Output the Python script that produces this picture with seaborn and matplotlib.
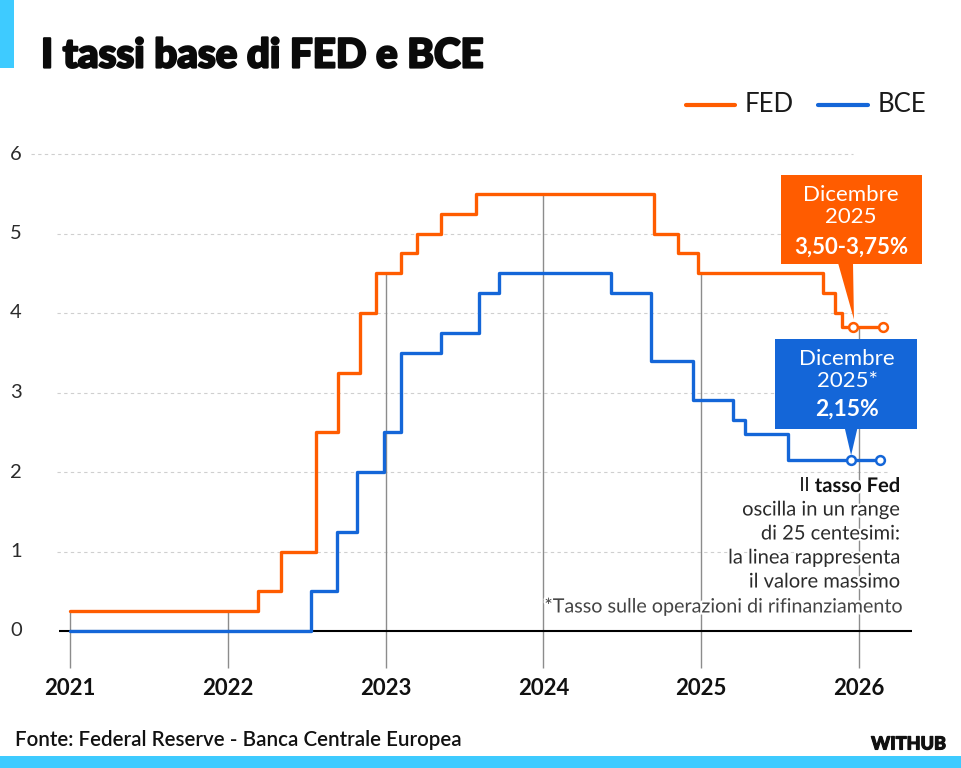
import matplotlib
matplotlib.use("Agg")
import matplotlib.pyplot as plt
import matplotlib.patheffects as pe
from matplotlib.patches import Rectangle, Polygon
from matplotlib.lines import Line2D
import seaborn as sns
import numpy as np
import pandas as pd

# --- dati (anno decimale, tasso %) ---
fed_dates = [2021.00, 2022.19, 2022.34, 2022.56, 2022.70, 2022.84, 2022.94, 2023.10, 2023.20,
             2023.35, 2023.57, 2024.70, 2024.85, 2024.98, 2025.77, 2025.85, 2025.89, 2026.15]
fed_rates = [0.25, 0.50, 1.00, 2.50, 3.25, 4.00, 4.50, 4.75, 5.00,
             5.25, 5.50, 5.00, 4.75, 4.50, 4.25, 4.00, 3.83, 3.83]
bce_dates = [2021.00, 2022.53, 2022.69, 2022.82, 2022.99, 2023.10, 2023.35, 2023.59,
             2023.72, 2024.43, 2024.68, 2024.95, 2025.20, 2025.28, 2025.55, 2026.13]
bce_rates = [0.00, 0.50, 1.25, 2.00, 2.50, 3.50, 3.75, 4.25,
             4.50, 4.25, 3.40, 2.90, 2.65, 2.48, 2.15, 2.15]
fed_marks = [2025.96, 2026.15]
fed_marks_rate = [3.83, 3.83]
bce_marks = [2025.95, 2026.13]
bce_marks_rate = [2.15, 2.15]
years = [2021, 2022, 2023, 2024, 2025, 2026]
yticks = [0, 1, 2, 3, 4, 5, 6]

C = {'fed': '#FF5C00', 'bce': '#1466D8', 'cyan': '#3ECBFF', 'grid': '#cfcfcf',
     'vline': '#8c8c8c', 'text': '#2b2b2b'}

sns.set_theme(style="white")
plt.rcParams['font.family'] = ['Lato', 'DejaVu Sans']

fig = plt.figure(figsize=(9.62, 7.68), dpi=100, facecolor='white')
ax = fig.add_axes([0, 0, 1, 1])
XLIM = (2021 - 70 / 157.8, 2021 + 892 / 157.8)   # 2021 a px 70, 157.8 px/anno
YLIM = ((631 - 768) / 79.5, 631 / 79.5)          # 0 a px 631, 79.5 px/punto

# griglia
for v in yticks[1:]:
    x0 = 2020.75 if v == 6 else 2020.92
    x1 = 2025.96 if v == 6 else 2026.19
    ax.hlines(v, x0, x1, colors=C['grid'], linestyles=(0, (3, 3)), lw=0.8, zorder=1)
for v in yticks:
    ax.text(2020.658, v, str(v), ha='center', va='center', fontsize=14.5, color=C['text'])

# linee verticali degli anni
for yr in years:
    top = fed_rates[np.searchsorted(fed_dates, yr, side='right') - 1]
    ax.vlines(yr, -0.47, top, colors=C['vline'], lw=1.0, zorder=1.5)
    ax.text(yr, -0.717, str(yr), ha='center', va='center', fontsize=16,
            fontweight='bold', color='#111111')

ax.hlines(0, 2020.93, 2026.336, colors='black', lw=1.5, zorder=2)

# serie
df = pd.concat([
    pd.DataFrame({'data': fed_dates, 'tasso': fed_rates, 'banca': 'FED'}),
    pd.DataFrame({'data': bce_dates, 'tasso': bce_rates, 'banca': 'BCE'}),
])
sns.lineplot(data=df, x='data', y='tasso', hue='banca', palette={'FED': C['fed'], 'BCE': C['bce']},
             drawstyle='steps-post', linewidth=2.4, estimator=None, legend=False, ax=ax, zorder=3)
ax.set_xlim(*XLIM)
ax.set_ylim(*YLIM)
ax.axis('off')

ax.scatter(fed_marks, fed_marks_rate, s=40, facecolor='white', edgecolor=C['fed'], lw=1.8, zorder=4)
ax.scatter(bce_marks, bce_marks_rate, s=40, facecolor='white', edgecolor=C['bce'], lw=1.8, zorder=4)

# riquadri
ax.add_patch(Rectangle((2025.506, 4.616), 0.893, 1.12, fc=C['fed'], ec='none', zorder=5))
ax.add_patch(Polygon([[2025.867, 4.63], [2025.962, 4.63], [2025.968, 3.92]], fc=C['fed'], ec='none', zorder=5))
ax.text(2025.95, 5.484, 'Dicembre', ha='center', va='center', fontsize=16, color='white', zorder=6)
ax.text(2025.95, 5.208, '2025', ha='center', va='center', fontsize=16, color='white', zorder=6)
ax.text(2025.95, 4.83, '3,50-3,75%', ha='center', va='center', fontsize=16, fontweight='bold',
        color='white', zorder=6)

ax.add_patch(Rectangle((2025.468, 2.541), 0.9, 1.132, fc=C['bce'], ec='none', zorder=5))
ax.add_patch(Polygon([[2025.91, 2.55], [2025.99, 2.55], [2025.95, 2.21]], fc=C['bce'], ec='none', zorder=5))
ax.text(2025.925, 3.42, 'Dicembre', ha='center', va='center', fontsize=16, color='white', zorder=6)
ax.text(2025.925, 3.145, '2025*', ha='center', va='center', fontsize=16, color='white', zorder=6)
ax.text(2025.925, 2.79, '2,15%', ha='center', va='center', fontsize=16.5, fontweight='bold',
        color='white', zorder=6)

# nota
halo = [pe.withStroke(linewidth=3, foreground='white')]
xr = 2021 + 830 / 157.8
t_bold = ax.text(xr, 1.824, 'tasso Fed', ha='right', va='center', fontsize=14.5, fontweight='bold',
                 color='#111111', zorder=6, path_effects=halo)
note = ['oscilla in un range', 'di 25 centesimi:', 'la linea rappresenta', 'il valore massimo']
for i, line in enumerate(note):
    ax.text(xr, 1.522 - i * 0.302, line, ha='right', va='center', fontsize=14.5,
            color=C['text'], zorder=6, path_effects=halo)
ax.text(2021 + 833 / 157.8, 0.302, '*Tasso sulle operazioni di rifinanziamento', ha='right', va='center',
        fontsize=14.2, color='#444444', zorder=6, path_effects=halo)

fig.canvas.draw()
bb = t_bold.get_window_extent()
xl = ax.transData.inverted().transform((bb.x0 - 5, 0))[0]
ax.text(xl, 1.824, 'Il', ha='right', va='center', fontsize=14.5, color=C['text'], zorder=6, path_effects=halo)

# titolo, legenda, fonte
fig.add_artist(Rectangle((0, 1 - 68 / 768), 14 / 962, 68 / 768, transform=fig.transFigure,
                         fc=C['cyan'], ec='none'))
fig.add_artist(Rectangle((0, 0), 1, 12 / 768, transform=fig.transFigure, fc=C['cyan'], ec='none'))
fig.text(41 / 962, 1 - 56 / 768, 'I tassi base di FED e BCE', ha='left', va='center',
         fontsize=29, fontweight='black', color='#0a0a0a',
         path_effects=[pe.withStroke(linewidth=1.6, foreground='#0a0a0a')])

for (x0, x1, xt, lab, col) in [(686, 735, 745, 'FED', C['fed']), (818, 868, 878, 'BCE', C['bce'])]:
    fig.add_artist(Line2D([x0 / 962, x1 / 962], [1 - 105 / 768] * 2, transform=fig.transFigure,
                          color=col, lw=3, solid_capstyle='round'))
    fig.text(xt / 962, 1 - 104 / 768, lab, ha='left', va='center', fontsize=18.5, color='#1a1a1a')

fig.text(15 / 962, 1 - 740 / 768, 'Fonte: Federal Reserve - Banca Centrale Europea', ha='left',
         va='center', fontsize=14.8, fontweight='semibold', color='#111111')
fig.text(946 / 962, 1 - 744 / 768, 'WITHUB', ha='right', va='center', fontsize=13,
         fontweight='black', color='#111111',
         path_effects=[pe.withStroke(linewidth=0.8, foreground='#111111')])

fig.savefig('out.png', dpi=100, facecolor='white')
plt.close()
